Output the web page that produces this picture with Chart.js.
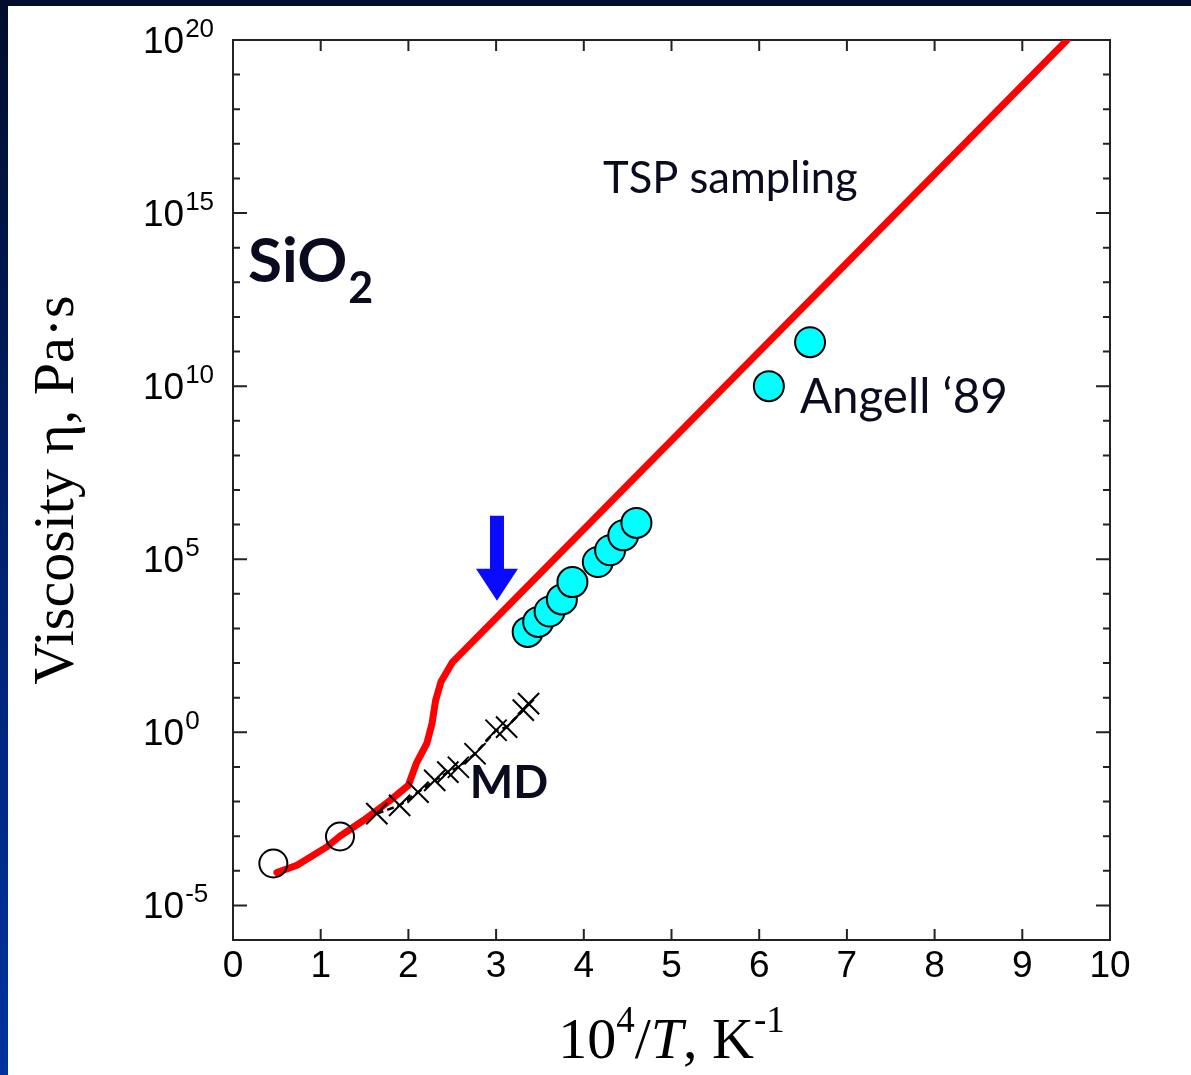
<!DOCTYPE html>
<html>
<head>
<meta charset="utf-8">
<script src="https://cdn.jsdelivr.net/npm/chart.js@4.4.1/dist/chart.umd.min.js"></script>
<style>
  html, body { margin: 0; padding: 0; }
  body {
    width: 1191px; height: 1075px; position: relative; overflow: hidden;
    background: linear-gradient(to bottom, #000d2b 0%, #00216e 50%, #0033a0 100%);
  }
  #panel { position: absolute; left: 8px; top: 6px; width: 1183px; height: 1069px; background: #fff; }
  canvas { display: block; }
</style>
</head>
<body>
<div id="panel"><canvas id="chart" width="1183" height="1069"></canvas></div>
<script>
// x = 10^4/T (1/K), y values are log10 of viscosity in Pa s

// red curve (TSP sampling)
const redX = [0.50, 0.73, 1.07, 1.22, 1.49, 1.79, 2.00, 2.09, 2.21, 2.27, 2.31, 2.37, 2.50, 9.51];
const redLogEta = [-4.05, -3.84, -3.31, -3.00, -2.54, -1.97, -1.53, -0.90, -0.32, 0.26, 0.92, 1.45, 2.02, 20.0];

// MD crosses
const mdX = [1.64, 1.90, 2.11, 2.30, 2.45, 2.57, 2.76, 3.00, 3.12, 3.31, 3.37];
const mdLogEta = [-2.35, -2.11, -1.73, -1.39, -1.15, -1.01, -0.62, 0.06, 0.15, 0.64, 0.83];

// open circles (high temperature)
const openX = [0.46, 1.22];
const openLogEta = [-3.79, -3.01];

// Angell '89 (cyan)
const angellX = [3.36, 3.48, 3.61, 3.75, 3.87, 4.16, 4.30, 4.45, 4.60, 6.11, 6.58];
const angellLogEta = [2.90, 3.19, 3.49, 3.84, 4.34, 4.92, 5.26, 5.69, 6.05, 10.0, 11.27];

// axes
const xTicks = [0, 1, 2, 3, 4, 5, 6, 7, 8, 9, 10];
const yTickExp = [-5, 0, 5, 10, 15, 20];
const yMinExp = -6;
const yMaxExp = 20;

// arrow position (tip)
const arrowTip = { x: 3.01, logEta: 3.80 };

const toPoints = (xs, logs) => xs.map((v, i) => ({ x: v, y: Math.pow(10, logs[i]) }));

const textColor = '#0b0b1f';

const frame = {
    id: 'frame',
    beforeDatasetsDraw(chart) {
        const { ctx, chartArea: a, scales: { x, y } } = chart;
        ctx.save();
        ctx.strokeStyle = '#222';
        ctx.lineWidth = 2;
        ctx.strokeRect(a.left, a.top, a.right - a.left, a.bottom - a.top);
        ctx.beginPath();
        for (let e = yMinExp + 1; e < yMaxExp; e++) {
            const py = y.getPixelForValue(Math.pow(10, e));
            const len = e % 5 === 0 ? 14 : 7;
            ctx.moveTo(a.left, py); ctx.lineTo(a.left + len, py);
            ctx.moveTo(a.right, py); ctx.lineTo(a.right - len, py);
        }
        for (const v of xTicks) {
            if (v === xTicks[0] || v === xTicks[xTicks.length - 1]) continue;
            const px = x.getPixelForValue(v);
            ctx.moveTo(px, a.bottom); ctx.lineTo(px, a.bottom - 11);
            ctx.moveTo(px, a.top); ctx.lineTo(px, a.top + 11);
        }
        ctx.stroke();
        ctx.restore();
    }
};

const labels = {
    id: 'labels',
    afterDraw(chart) {
        const { ctx, chartArea: a, scales: { x, y } } = chart;
        ctx.save();

        // y tick labels: 10 with superscript exponent
        ctx.fillStyle = '#000';
        ctx.textAlign = 'left';
        ctx.textBaseline = 'alphabetic';
        for (const e of yTickExp) {
            const py = y.getPixelForValue(Math.pow(10, e));
            const base = py + 13;
            ctx.font = '37px "Liberation Sans"';
            ctx.fillText('10', 135, base);
            const w = ctx.measureText('10').width;
            ctx.font = '26px "Liberation Sans"';
            ctx.fillText(String(e), 135 + w + 1, base - 16);
        }

        // x axis title: 10^4/T, K^-1
        const big = '58px "Liberation Serif"';
        const sup = '37px "Liberation Serif"';
        const ital = 'italic 58px "Liberation Serif"';
        const parts = [
            { t: '10', f: big, dy: 0 },
            { t: '4', f: sup, dy: -26 },
            { t: '/', f: big, dy: 0 },
            { t: 'T', f: ital, dy: 0 },
            { t: ', K', f: big, dy: 0 },
            { t: '-1', f: sup, dy: -26 }
        ];
        let total = 0;
        for (const p of parts) { ctx.font = p.f; p.w = ctx.measureText(p.t).width; total += p.w; }
        let cx = (a.left + a.right) / 2 - total / 2;
        const xBase = 1052;
        for (const p of parts) {
            ctx.font = p.f;
            ctx.fillText(p.t, cx, xBase + p.dy);
            cx += p.w;
        }

        // annotations
        ctx.fillStyle = textColor;
        ctx.font = '43.5px Lato';
        ctx.fillText('TSP sampling', x.getPixelForValue(4.22), y.getPixelForValue(Math.pow(10, 15.58)));

        ctx.font = '47.5px Lato';
        ctx.fillText('Angell \u201889', x.getPixelForValue(6.465), y.getPixelForValue(Math.pow(10, 9.22)));

        ctx.font = 'bold 46px Lato';
        ctx.fillText('MD', x.getPixelForValue(2.70), y.getPixelForValue(Math.pow(10, -1.91)));

        const sx = x.getPixelForValue(0.171);
        const sy = y.getPixelForValue(Math.pow(10, 13.0));
        ctx.font = 'bold 62px Lato';
        ctx.fillText('SiO', sx, sy);
        const sw = ctx.measureText('SiO').width;
        ctx.font = 'bold 43px Lato';
        ctx.fillText('2', sx + sw + 1, sy + 21);

        // blue arrow pointing down at the curve
        const tx = x.getPixelForValue(arrowTip.x);
        const ty = y.getPixelForValue(Math.pow(10, arrowTip.logEta));
        ctx.fillStyle = '#0a0aff';
        ctx.beginPath();
        ctx.moveTo(tx, ty);
        ctx.lineTo(tx - 21, ty - 32);
        ctx.lineTo(tx - 7, ty - 32);
        ctx.lineTo(tx - 7, ty - 85);
        ctx.lineTo(tx + 7, ty - 85);
        ctx.lineTo(tx + 7, ty - 32);
        ctx.lineTo(tx + 21, ty - 32);
        ctx.closePath();
        ctx.fill();

        ctx.restore();
    }
};

new Chart(document.getElementById('chart'), {
    type: 'scatter',
    data: {
        datasets: [
            {
                label: 'MD',
                data: toPoints(mdX, mdLogEta),
                pointStyle: 'crossRot',
                pointRadius: 15,
                borderColor: '#000',
                borderWidth: 2
            },
            {
                label: 'MD line',
                data: toPoints(mdX, mdLogEta),
                showLine: true,
                pointRadius: 0,
                borderColor: '#000',
                borderWidth: 2.5,
                borderDash: [7, 4]
            },
            {
                label: 'open',
                data: toPoints(openX, openLogEta),
                pointStyle: 'circle',
                pointRadius: 14,
                borderColor: '#000',
                borderWidth: 2,
                backgroundColor: 'rgba(0,0,0,0)'
            },
            {
                label: "Angell '89",
                data: toPoints(angellX, angellLogEta),
                pointStyle: 'circle',
                pointRadius: 15,
                borderColor: '#000',
                borderWidth: 2,
                backgroundColor: '#00ffff'
            },
            {
                label: 'TSP sampling',
                data: toPoints(redX, redLogEta),
                showLine: true,
                pointRadius: 0,
                borderColor: '#ff0000',
                borderWidth: 7,
                tension: 0,
                borderJoinStyle: 'round',
                borderCapStyle: 'round'
            }
        ]
    },
    options: {
        responsive: false,
        animation: false,
        events: [],
        layout: { padding: { top: 34, right: 81, left: 0, bottom: 0 } },
        plugins: {
            legend: { display: false },
            tooltip: { enabled: false }
        },
        scales: {
            x: {
                type: 'linear',
                min: 0,
                max: 10,
                grid: { display: false, drawTicks: false },
                border: { display: false },
                ticks: {
                    stepSize: 1,
                    autoSkip: false,
                    maxRotation: 0,
                    padding: 5,
                    color: '#000',
                    font: { family: 'Liberation Sans', size: 37 }
                },
                afterFit(scale) { scale.height = 135; }
            },
            y: {
                type: 'logarithmic',
                min: Math.pow(10, yMinExp),
                max: Math.pow(10, yMaxExp),
                grid: { display: false, drawTicks: false },
                border: { display: false },
                ticks: { display: false },
                title: {
                    display: true,
                    text: 'Viscosity \u03b7, Pa\u00b7s',
                    color: '#000',
                    font: { family: 'Liberation Serif', size: 58 },
                    padding: { top: 15, bottom: 0 }
                },
                afterFit(scale) { scale.width = 225; }
            }
        }
    },
    plugins: [frame, labels]
});
</script>
</body>
</html>
